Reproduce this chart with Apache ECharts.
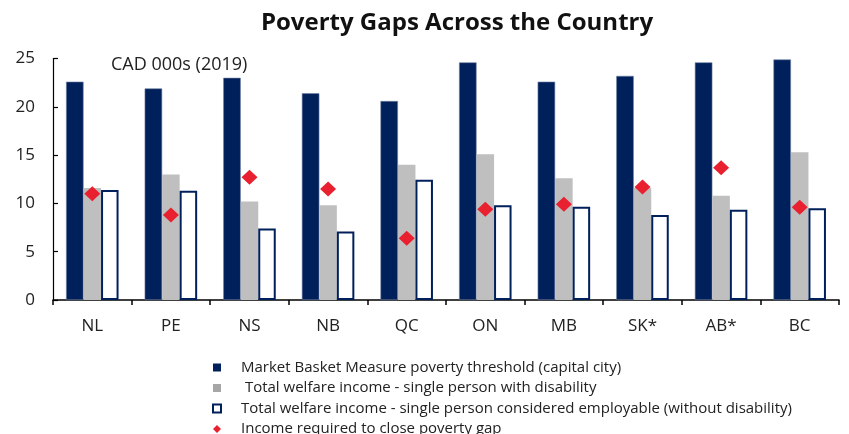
<!DOCTYPE html>
<html>
<head>
<meta charset="utf-8">
<script src="https://cdn.jsdelivr.net/npm/echarts@6/dist/echarts.min.js"></script>
<style>
  html, body { margin: 0; padding: 0; background: #fff; }
  #chart { width: 849px; height: 434px; }
</style>
</head>
<body>
<div id="chart"></div>
<script>
// Provinces (capital-city basis), CAD thousands, 2019
const provinces = ['NL', 'PE', 'NS', 'NB', 'QC', 'ON', 'MB', 'SK*', 'AB*', 'BC'];
const mbmThreshold = [22.6, 21.9, 23.0, 21.4, 20.6, 24.6, 22.6, 23.2, 24.6, 24.9];
const welfareDisability = [11.6, 13.0, 10.2, 9.8, 14.0, 15.1, 12.6, 11.6, 10.8, 15.3];
const welfareEmployable = [11.4, 11.3, 7.4, 7.1, 12.45, 9.8, 9.65, 8.8, 9.35, 9.5];
const gapToClose = [11.0, 8.8, 12.7, 11.5, 6.4, 9.4, 9.9, 11.7, 13.7, 9.6];
const yTicks = { min: 0, max: 25, interval: 5 };

const seriesNames = [
  'Market Basket Measure poverty threshold (capital city)',
  ' Total welfare income - single person with disability',
  'Total welfare income - single person considered employable (without disability)',
  'Income required to close poverty gap'
];

const NAVY = '#00205B';
const GREY = '#BFBFBF';
const RED = '#E8202F';
const FONT = 'Open Sans';

const chart = echarts.init(document.getElementById('chart'), null, { renderer: 'canvas' });

chart.setOption({
  animation: false,
  textStyle: { fontFamily: FONT, color: '#222' },
  title: [
    {
      text: 'Poverty Gaps Across the Country',
      left: 452,
      textAlign: 'center',
      top: 6,
      textStyle: { fontFamily: FONT, fontWeight: 'bold', fontSize: 24, color: '#111' }
    },
    {
      text: 'CAD 000s (2019)',
      left: 106,
      top: 51,
      textStyle: { fontFamily: FONT, fontWeight: 'normal', fontSize: 18, color: '#222' }
    }
  ],
  grid: { left: 53, right: 10, top: 58.5, bottom: 134, containLabel: false },
  legend: {
    orient: 'vertical',
    left: 212,
    top: 360,
    height: 200,
    padding: 0,
    itemWidth: 8,
    itemHeight: 8,
    itemGap: 5.5,
    selectedMode: false,
    textStyle: { fontFamily: FONT, fontSize: 15, lineHeight: 14, color: '#222', padding: [0, 0, 0, 15] },
    data: [
      { name: seriesNames[0], icon: 'rect', itemStyle: { color: NAVY, borderWidth: 0 } },
      { name: seriesNames[1], icon: 'rect', itemStyle: { color: '#A6A6A6', borderWidth: 0 } },
      { name: seriesNames[2], icon: 'rect', itemStyle: { color: '#fff', borderColor: NAVY, borderWidth: 2 } },
      { name: seriesNames[3], icon: 'diamond', itemStyle: { color: RED, borderWidth: 0, opacity: 1 } }
    ]
  },
  xAxis: {
    type: 'category',
    data: provinces,
    axisLine: { lineStyle: { color: '#000', width: 1.5 } },
    axisTick: { show: true, length: 5, lineStyle: { color: '#000', width: 1.5 } },
    axisLabel: { fontFamily: FONT, fontSize: 17, color: '#222', margin: 18 }
  },
  yAxis: {
    type: 'value',
    min: yTicks.min,
    max: yTicks.max,
    interval: yTicks.interval,
    axisLine: { show: true, lineStyle: { color: '#000', width: 1.2 } },
    axisTick: { show: true, inside: true, length: 5, lineStyle: { color: '#000', width: 1.2 } },
    axisLabel: { fontFamily: FONT, fontSize: 17, color: '#222', margin: 18 },
    splitLine: { show: false }
  },
  series: [
    {
      name: seriesNames[0],
      type: 'bar',
      data: mbmThreshold,
      barWidth: 17.5,
      barGap: '0%',
      itemStyle: { color: NAVY, borderColor: '#6F7FA3', borderWidth: 0.6 }
    },
    {
      name: seriesNames[1],
      type: 'bar',
      data: welfareDisability,
      barWidth: 17.5,
      barGap: '0%',
      itemStyle: { color: GREY }
    },
    {
      name: seriesNames[2],
      type: 'bar',
      data: welfareEmployable,
      barWidth: 17.5,
      barGap: '0%',
      itemStyle: { color: '#fff', borderColor: NAVY, borderWidth: 2 }
    },
    {
      name: seriesNames[3],
      type: 'scatter',
      data: gapToClose,
      symbol: 'diamond',
      symbolSize: [16, 15],
      itemStyle: { color: RED, opacity: 1 },
      z: 5
    }
  ]
});
</script>
</body>
</html>
